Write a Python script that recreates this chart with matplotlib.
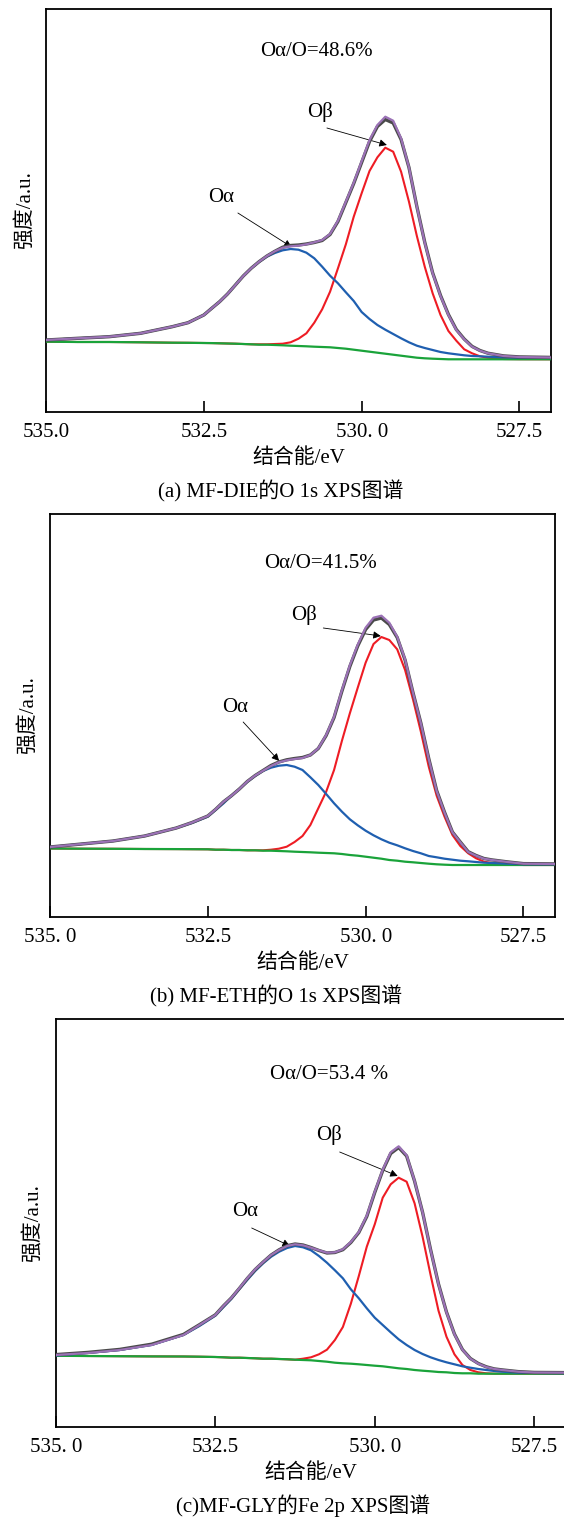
import matplotlib
matplotlib.use("Agg")
import matplotlib.pyplot as plt

plt.rcParams['font.family'] = ['Liberation Serif', 'Noto Sans CJK SC']
plt.rcParams['font.size'] = 15

# binding energy grid (eV), shared by all curves
energy = [535.0, 534.5, 534.0, 533.5, 533.0, 532.75, 532.5, 532.375, 532.25, 532.125,
          532.0, 531.875, 531.75, 531.625, 531.5, 531.375, 531.25, 531.125, 531.0, 530.875,
          530.75, 530.625, 530.5, 530.375, 530.25, 530.125, 530.0, 529.875, 529.75, 529.625,
          529.5, 529.375, 529.25, 529.125, 529.0, 528.875, 528.75, 528.625, 528.5, 528.375,
          528.25, 528.125, 528.0, 527.75, 527.5, 527.0]

# (a) MF-DIE  (background, O-alpha, O-beta, fitted envelope, measured)
bg_a = [70.3, 70.0, 70.0, 69.7, 69.3, 69.2, 69.0, 68.9, 68.7, 68.5,
        68.3, 68.0, 67.7, 67.3, 67.3, 67.0, 66.7, 66.3, 66.0, 65.7,
        65.3, 65.0, 64.7, 64.0, 63.3, 62.3, 61.3, 60.3, 59.3, 58.3,
        57.3, 56.3, 55.3, 54.3, 53.7, 53.3, 53.0, 52.7, 52.7, 52.7,
        52.7, 52.7, 52.7, 52.7, 52.7, 52.7]
oa_a = [72.0, 73.7, 75.3, 78.7, 85.3, 89.3, 97.0, 103.7, 110.3, 118.0,
        127.0, 136.0, 143.7, 150.0, 155.3, 159.0, 161.7, 163.0, 162.3, 159.3,
        153.7, 145.3, 136.3, 128.7, 119.7, 111.0, 100.0, 93.0, 87.0, 82.3,
        78.0, 73.7, 69.7, 66.3, 64.0, 62.0, 60.0, 58.7, 57.7, 56.7,
        56.0, 55.7, 55.3, 54.7, 54.3, 54.0]
ob_a = [70.3, 70.0, 70.0, 69.7, 69.3, 69.2, 69.0, 68.9, 68.7, 68.5,
        68.3, 68.0, 67.7, 67.7, 67.7, 68.0, 68.3, 69.7, 73.3, 78.7,
        89.3, 102.7, 120.3, 143.7, 167.7, 195.3, 218.7, 241.0, 254.7, 264.3,
        260.3, 240.3, 210.3, 176.0, 145.3, 118.7, 97.0, 81.0, 71.3, 62.7,
        58.7, 55.7, 54.3, 53.0, 52.8, 52.7]
fit_a = [72.0, 73.7, 75.3, 78.7, 85.3, 89.3, 97.0, 103.7, 110.3, 118.0,
         127.0, 136.0, 143.7, 150.3, 156.0, 160.7, 164.3, 165.7, 166.3, 167.7,
         169.7, 172.0, 178.0, 191.3, 210.3, 229.3, 250.7, 272.0, 287.0, 295.3,
         291.3, 273.7, 244.7, 205.3, 169.3, 138.7, 116.0, 97.0, 82.0, 72.7,
         65.3, 61.3, 58.7, 56.0, 55.0, 54.5]
raw_a = [72.0, 73.7, 75.3, 78.7, 85.3, 89.3, 97.0, 103.7, 110.3, 118.0,
         127.0, 136.0, 143.7, 150.3, 156.0, 160.7, 164.8, 166.5, 167.0, 168.0,
         169.5, 171.5, 177.5, 190.5, 209.5, 228.5, 249.5, 270.5, 285.5, 292.5,
         289.0, 272.5, 244.5, 205.5, 169.8, 139.2, 116.5, 97.5, 82.5, 73.0,
         65.6, 61.5, 58.8, 56.1, 55.1, 54.6]

# (b) MF-ETH
bg_b = [68.5, 68.3, 68.2, 68.0, 67.9, 67.8, 67.7, 67.3, 67.3, 67.0,
        67.0, 66.7, 66.7, 66.3, 66.3, 66.0, 65.7, 65.3, 65.0, 64.7,
        64.3, 64.0, 63.7, 63.0, 62.0, 61.3, 60.3, 59.3, 58.3, 57.0,
        56.3, 55.3, 54.7, 54.0, 53.3, 52.7, 52.3, 52.0, 52.0, 52.0,
        52.0, 52.0, 52.0, 52.0, 52.0, 52.0]
oa_b = [70.0, 73.0, 76.0, 81.0, 89.0, 94.0, 100.3, 107.0, 113.7, 121.3,
        128.0, 135.0, 141.0, 146.0, 149.3, 151.3, 152.0, 150.3, 147.0, 139.7,
        132.0, 123.0, 113.7, 105.3, 97.7, 91.7, 86.3, 81.7, 77.7, 74.3,
        71.7, 68.7, 66.0, 63.7, 61.0, 59.7, 58.3, 57.3, 56.3, 55.7,
        55.0, 54.3, 54.0, 53.3, 52.7, 52.5]
ob_b = [68.5, 68.3, 68.2, 68.0, 67.9, 67.8, 67.7, 67.3, 67.3, 67.0,
        67.0, 66.7, 66.7, 66.7, 67.3, 68.3, 70.3, 75.0, 81.0, 92.0,
        108.7, 125.3, 147.0, 176.3, 203.7, 229.3, 254.3, 273.0, 280.0, 277.0,
        267.7, 247.0, 217.7, 185.3, 150.3, 121.3, 100.3, 82.0, 71.0, 63.7,
        58.7, 55.3, 54.0, 52.7, 52.0, 52.0]
fit_b = [70.0, 73.0, 76.0, 81.0, 89.0, 94.5, 101.0, 107.7, 115.3, 121.3,
         128.0, 135.5, 141.5, 146.3, 151.0, 154.7, 156.7, 158.0, 159.0, 162.0,
         168.7, 182.0, 200.3, 227.0, 251.7, 272.3, 289.3, 299.3, 301.3, 294.3,
         280.3, 257.7, 224.3, 193.7, 158.0, 126.0, 104.3, 84.7, 74.7, 65.0,
         61.3, 58.3, 57.0, 55.0, 53.3, 53.0]
raw_b = [70.0, 73.0, 76.0, 81.0, 89.0, 94.5, 101.0, 107.7, 115.3, 121.3,
         128.0, 135.5, 141.5, 146.5, 151.5, 155.0, 157.2, 158.5, 159.5, 162.0,
         168.5, 181.5, 199.5, 226.0, 250.5, 271.0, 287.5, 297.0, 299.0, 292.5,
         279.5, 257.0, 224.5, 194.0, 158.5, 126.5, 104.8, 85.0, 75.0, 65.3,
         61.5, 58.5, 57.1, 55.1, 53.4, 53.1]

# (c) MF-GLY
bg_c = [71.2, 71.0, 70.8, 70.6, 70.5, 70.3, 70.0, 69.7, 69.3, 69.3,
        69.0, 68.7, 68.3, 68.3, 68.0, 67.7, 67.3, 67.0, 66.7, 66.0,
        65.3, 64.3, 63.7, 63.3, 62.7, 62.0, 61.3, 60.7, 59.7, 58.7,
        58.0, 57.0, 56.3, 55.7, 55.0, 54.7, 54.0, 53.7, 53.7, 53.3,
        53.3, 53.3, 53.3, 53.3, 53.3, 53.3]
oa_c = [71.5, 74.0, 77.0, 82.0, 92.0, 101.0, 111.3, 119.7, 128.0, 137.7,
        147.0, 156.0, 163.7, 170.3, 175.3, 179.0, 181.0, 179.7, 176.7, 171.0,
        164.3, 156.7, 148.7, 137.7, 128.7, 118.7, 109.3, 102.0, 94.7, 87.7,
        82.0, 77.0, 73.0, 69.7, 67.0, 64.7, 62.7, 60.7, 59.3, 58.0,
        57.0, 56.0, 55.3, 54.3, 54.0, 53.8]
ob_c = [71.2, 71.0, 70.8, 70.6, 70.5, 70.3, 70.0, 69.7, 69.3, 69.3,
        69.0, 68.7, 68.3, 68.3, 68.0, 67.7, 67.3, 68.3, 69.7, 72.7,
        77.3, 87.0, 100.0, 123.3, 151.0, 180.3, 202.7, 229.3, 242.7, 249.3,
        245.3, 223.7, 190.3, 152.3, 116.3, 90.3, 72.7, 62.0, 57.0, 54.7,
        53.7, 53.3, 53.3, 53.3, 53.3, 53.3]
fit_c = [72.0, 74.0, 77.0, 82.0, 92.0, 102.0, 112.0, 121.0, 129.0, 138.7,
         148.7, 157.7, 165.0, 172.0, 177.0, 181.0, 182.7, 181.7, 179.3, 176.7,
         174.3, 174.7, 177.7, 185.0, 195.0, 211.3, 235.3, 257.3, 274.7, 280.7,
         271.7, 246.0, 214.7, 177.3, 142.7, 114.7, 92.7, 77.3, 68.3, 63.3,
         60.0, 58.0, 57.0, 55.3, 54.5, 54.3]
raw_c = [72.4, 74.6, 77.6, 82.8, 92.6, 102.3, 112.2, 121.0, 129.0, 138.5,
         148.5, 157.5, 165.0, 172.0, 177.2, 181.3, 183.0, 182.0, 179.5, 176.5,
         174.0, 174.5, 177.3, 184.5, 194.5, 210.5, 234.5, 256.5, 273.5, 279.5,
         271.0, 245.8, 214.8, 177.6, 143.0, 115.0, 93.0, 77.5, 68.5, 63.5,
         60.2, 58.1, 57.1, 55.4, 54.6, 54.4]

tick_pos = [535.0, 532.5, 530.0, 527.5]
ticklabels_a = ['535.0', '532.5', '530. 0', '527.5']
ticklabels_bc = ['535. 0', '532.5', '530. 0', '527.5']

ratio_texts = ['Oα/O=48.6%', 'Oα/O=41.5%', 'Oα/O=53.4 %']
captions = ['(a) MF-DIE的O 1s XPS图谱', '(b) MF-ETH的O 1s XPS图谱', '(c)MF-GLY的Fe 2p XPS图谱']

# label / arrow anchor points in data units: (label, arrow tail, arrow head)
oa_marks = [((532.22, 215), (531.96, 199), (531.11, 165)),
            ((532.06, 210), (531.94, 195), (531.37, 156)),
            ((532.04, 215), (531.93, 199), (531.33, 181))]
ob_marks = [((530.66, 300), (530.55, 284), (529.60, 267)),
            ((530.98, 302), (530.67, 289), (529.76, 281)),
            ((530.71, 292), (530.55, 275), (529.64, 251))]

W, H = 564, 1522
fig = plt.figure(figsize=(W / 100, H / 100), dpi=100)

# axes boxes in pixels: left, top, right, bottom
boxes = [(46, 9, 551, 412), (50, 514, 555, 917), (56, 1019, 566, 1427)]
ratio_y = [0.895, 0.878, 0.863]
cap_x = [0.464, 0.448, 0.485]
ylab_px = [25, 28, 33]
panels = [(bg_a, oa_a, ob_a, fit_a, raw_a), (bg_b, oa_b, ob_b, fit_b, raw_b),
          (bg_c, oa_c, ob_c, fit_c, raw_c)]

for i, (l, t, r, b) in enumerate(boxes):
    ax = fig.add_axes([l / W, (H - b) / H, (r - l) / W, (b - t) / H])
    bg, oa, ob, fit, raw = panels[i]
    ax.plot(energy, ob, color='#ee1c24', lw=1.5, zorder=2)
    ax.plot(energy, bg, color='#1aa33a', lw=1.6, zorder=3)
    ax.plot(energy, oa, color='#1f5fb0', lw=1.6, zorder=4)
    ax.plot(energy, raw, color='#4a4a4a', lw=2.4, zorder=5)
    ax.plot(energy, fit, color='#9b72b6', lw=1.6, zorder=6)

    ax.set_xlim(535, 527)
    ax.set_ylim(0, b - t)
    ax.set_yticks([])
    ax.set_xticks(tick_pos)
    ax.set_xticklabels(ticklabels_a if i == 0 else ticklabels_bc)
    ax.tick_params(axis='x', direction='in', length=8, width=1.2, pad=8, labelsize=15)
    for s in ax.spines.values():
        s.set_linewidth(1.3)

    ax.text(0.535, ratio_y[i], ratio_texts[i], transform=ax.transAxes,
            ha='center', va='center', fontsize=15)
    for name, marks in (('Oα', oa_marks[i]), ('Oβ', ob_marks[i])):
        lab, tail, head = marks
        ax.text(lab[0], lab[1], name, ha='center', va='center', fontsize=15)
        ax.annotate('', xy=head, xytext=tail,
                    arrowprops=dict(arrowstyle='-|>', color='black', lw=0.6,
                                    mutation_scale=11, shrinkA=0, shrinkB=0))

    hpx = b - t
    wpx = r - l
    ax.text((ylab_px[i] - l) / wpx, 0.5, '强度/a.u.', transform=ax.transAxes,
            rotation=90, ha='center', va='center', fontsize=15)
    ax.text(0.5, -46 / hpx, '结合能/eV', transform=ax.transAxes,
            ha='center', va='center', fontsize=15)
    ax.text(cap_x[i], -79 / hpx, captions[i], transform=ax.transAxes,
            ha='center', va='center', fontsize=15)

fig.savefig('out.png', dpi=100)
